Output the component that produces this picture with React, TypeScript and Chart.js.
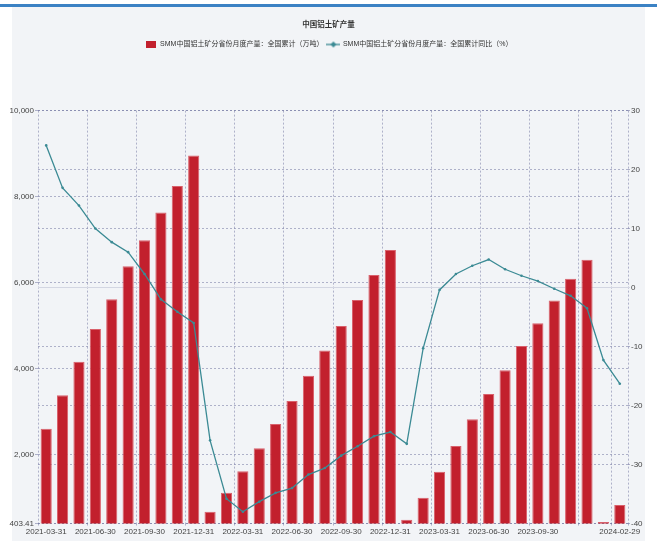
import React, { useEffect, useRef } from 'react';
import { Chart, registerables } from 'chart.js';

Chart.register(...registerables);

const categories = [
  '2021-03-31', '2021-04-30', '2021-05-31', '2021-06-30', '2021-07-31', '2021-08-31',
  '2021-09-30', '2021-10-31', '2021-11-30', '2021-12-31', '2022-01-31', '2022-02-28',
  '2022-03-31', '2022-04-30', '2022-05-31', '2022-06-30', '2022-07-31', '2022-08-31',
  '2022-09-30', '2022-10-31', '2022-11-30', '2022-12-31', '2023-01-31', '2023-02-28',
  '2023-03-31', '2023-04-30', '2023-05-31', '2023-06-30', '2023-07-31', '2023-08-31',
  '2023-09-30', '2023-10-31', '2023-11-30', '2023-12-31', '2024-01-31', '2024-02-29',
];

const cumulativeOutput = [
  2606, 3382, 4163, 4922, 5613, 6380, 6984, 7634, 8245, 8959, 677, 1119,
  1616, 2150, 2715, 3249, 3837, 4427, 4992, 5596, 6177, 6758, 491, 1003,
  1607, 2204, 2824, 3412, 3963, 4527, 5055, 5589, 6091, 6533, 438, 833,
];

const yoyGrowth = [
  24.1, 16.9, 13.9, 10.0, 7.7, 6.0, 2.3, -2.0, -4.1, -6.0, -25.9, -35.8,
  -38.0, -36.3, -34.8, -34.0, -31.7, -30.6, -28.5, -26.9, -25.2, -24.5, -26.5, -10.3,
  -0.4, 2.3, 3.7, 4.75, 3.1, 2.0, 1.1, -0.2, -1.4, -3.5, -12.3, -16.3,
];

const leftTicks = [403.41, 2000, 4000, 6000, 8000, 10000];
const rightMin = -40;
const rightMax = 30;
const rightStep = 10;

const shownLabelIndex = [0, 3, 6, 9, 12, 15, 18, 21, 24, 27, 30, 35];
const gridLineIndex = [0, 3, 6, 9, 12, 15, 18, 21, 24, 27, 30, 33, 35];

const titleText = '中国铝土矿产量';
const barLabel = 'SMM中国铝土矿分省份月度产量：全国累计（万吨）';
const lineLabel = 'SMM中国铝土矿分省份月度产量：全国累计同比（%）';

const BAR_COLOR = '#c2202d';
const LINE_COLOR = '#3b8a94';
const GRID_COLOR = 'rgba(105,110,155,0.5)';
const TEXT_COLOR = '#444';
const NARROW = "'Liberation Sans', Arial, sans-serif";
const CJK = "'Liberation Sans', 'Noto Sans CJK SC', sans-serif";

function makeBoxMarker() {
  const c = document.createElement('canvas');
  c.width = 10;
  c.height = 7;
  const g = c.getContext('2d')!;
  g.fillStyle = BAR_COLOR;
  g.fillRect(0, 0, 10, 7);
  return c;
}

function makeLineMarker() {
  const c = document.createElement('canvas');
  c.width = 14;
  c.height = 8;
  const g = c.getContext('2d')!;
  g.strokeStyle = LINE_COLOR;
  g.lineWidth = 1.3;
  g.beginPath();
  g.moveTo(0, 4);
  g.lineTo(14, 4);
  g.stroke();
  g.fillStyle = LINE_COLOR;
  g.beginPath();
  g.moveTo(7, 1);
  g.lineTo(10, 4);
  g.lineTo(7, 7);
  g.lineTo(4, 4);
  g.closePath();
  g.fill();
  return c;
}

export default function App() {
  const canvasRef = useRef<HTMLCanvasElement | null>(null);

  useEffect(() => {
    if (!canvasRef.current) return;
    const boxMarker = makeBoxMarker();
    const lineMarker = makeLineMarker();

    const chart = new Chart(canvasRef.current, {
      type: 'bar',
      data: {
        labels: categories,
        datasets: [
          {
            type: 'bar',
            label: barLabel,
            data: cumulativeOutput,
            backgroundColor: BAR_COLOR,
            borderColor: '#d9606b',
            borderWidth: 1,
            barPercentage: 0.68,
            categoryPercentage: 1,
            yAxisID: 'y',
            order: 1,
          },
          {
            type: 'line',
            label: lineLabel,
            data: yoyGrowth,
            borderColor: LINE_COLOR,
            backgroundColor: LINE_COLOR,
            borderWidth: 1.3,
            pointRadius: 1.3,
            pointBackgroundColor: LINE_COLOR,
            pointBorderWidth: 0,
            tension: 0,
            yAxisID: 'y1',
            order: 0,
          },
        ],
      },
      options: {
        animation: false,
        responsive: false,
        maintainAspectRatio: false,
        layout: { padding: { left: 0, right: 0, top: 0, bottom: 0 } },
        plugins: {
          tooltip: { enabled: false },
          title: {
            display: true,
            text: titleText,
            color: '#333',
            font: { family: CJK, size: 7.5, weight: 'bold' },
            padding: { top: 20, bottom: 8 },
          },
          legend: {
            display: true,
            position: 'top',
            align: 'center',
            labels: {
              usePointStyle: true,
              pointStyleWidth: 12,
              padding: 4,
              color: '#333',
              font: { family: CJK, size: 7 },
              generateLabels: () => [
                {
                  text: barLabel,
                  fillStyle: BAR_COLOR,
                  strokeStyle: BAR_COLOR,
                  lineWidth: 0,
                  pointStyle: boxMarker,
                  datasetIndex: 0,
                  hidden: false,
                  fontColor: '#333',
                },
                {
                  text: lineLabel,
                  fillStyle: LINE_COLOR,
                  strokeStyle: LINE_COLOR,
                  lineWidth: 0,
                  pointStyle: lineMarker,
                  datasetIndex: 1,
                  hidden: false,
                  fontColor: '#333',
                },
              ],
            },
          },
          subtitle: {
            display: true,
            text: ' ',
            weight: 500,
            position: 'top',
            font: { size: 10 },
            padding: { top: 0, bottom: 40.6 },
          },
        },
        scales: {
          x: {
            type: 'category',
            offset: true,
            afterFit: (scale: any) => {
              scale.height = 17.5;
            },
            border: { display: false, dash: [2, 2] },
            grid: {
              offset: true,
              drawOnChartArea: true,
              drawTicks: true,
              tickLength: 2,
              lineWidth: 1,
              color: (ctx: any) =>
                ctx.index === undefined || gridLineIndex.includes(ctx.index)
                  ? GRID_COLOR
                  : 'rgba(0,0,0,0)',
            },
            ticks: {
              autoSkip: false,
              maxRotation: 0,
              minRotation: 0,
              padding: 1.5,
              color: TEXT_COLOR,
              font: { family: NARROW, size: 8 },
              callback: (_v: any, i: number) =>
                shownLabelIndex.includes(i) ? categories[i] : '',
            },
          },
          y: {
            type: 'linear',
            position: 'left',
            min: leftTicks[0],
            max: leftTicks[leftTicks.length - 1],
            afterBuildTicks: (scale: any) => {
              scale.ticks = leftTicks.map((v) => ({ value: v }));
            },
            afterFit: (scale: any) => {
              scale.width = 38;
            },
            border: { display: false, dash: [2, 2] },
            grid: {
              color: GRID_COLOR,
              lineWidth: 1,
              drawTicks: true,
              tickLength: 3,
            },
            ticks: {
              padding: 1,
              color: TEXT_COLOR,
              font: { family: NARROW, size: 8 },
              callback: (v: any) =>
                Number(v) === leftTicks[0]
                  ? String(leftTicks[0])
                  : Number(v).toLocaleString('en-US'),
            },
          },
          y1: {
            type: 'linear',
            position: 'right',
            min: rightMin,
            max: rightMax,
            afterFit: (scale: any) => {
              scale.width = 29;
            },
            border: {
              display: false,
              dash: (ctx: any) => (ctx.tick && ctx.tick.value === 0 ? [] : [2, 2]),
            },
            grid: {
              color: (ctx: any) =>
                ctx.tick && ctx.tick.value === 0 ? '#d3d6e2' : GRID_COLOR,
              lineWidth: 1,
              drawTicks: true,
              tickLength: 2,
            },
            ticks: {
              stepSize: rightStep,
              padding: 1,
              color: TEXT_COLOR,
              font: { family: NARROW, size: 8 },
            },
          },
        },
      },
    } as any);

    return () => {
      chart.destroy();
    };
  }, []);

  return (
    <div
      style={{
        position: 'fixed',
        left: 0,
        top: 0,
        width: 657,
        height: 541,
        background: '#ffffff',
        overflow: 'hidden',
      }}
    >
      <div
        style={{
          position: 'absolute',
          left: 0,
          top: 4,
          width: 657,
          height: 3,
          background: '#3b82c4',
        }}
      />
      <div
        style={{
          position: 'absolute',
          left: 12,
          top: 7,
          width: 633,
          height: 534,
          background: '#f2f4f7',
        }}
      />
      <canvas
        ref={canvasRef}
        width={657}
        height={541}
        style={{ position: 'absolute', left: 0, top: 0, width: 657, height: 541 }}
      />
    </div>
  );
}
